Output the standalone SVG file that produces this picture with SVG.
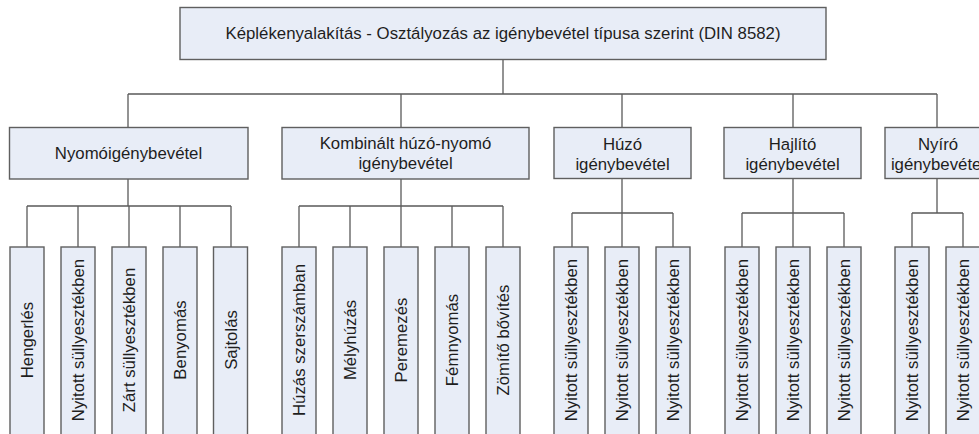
<svg xmlns="http://www.w3.org/2000/svg" width="979" height="434" viewBox="0 0 979 434">
<style>
.box{fill:#e8edf7;stroke:#5f5f5f;stroke-width:1.4}
.ln{fill:none;stroke:#5a5a5a;stroke-width:1.3}
text{font-family:"Liberation Sans",Arial,sans-serif;font-size:16.8px;fill:#1e1e1e;text-anchor:middle}
</style>
<rect width="979" height="434" fill="#ffffff"/>
<g id="connectors" class="ln">
<path d="M503,60V94M128,94H937M128,94V127M401,94V127M622,94V127M793,94V127M937,94V127"/>
<path d="M128,179V206M27,206H231M27,206V247M78,206V247M129,206V247M180,206V247M231,206V247"/>
<path d="M401,179V206M299,206H503M299,206V247M350,206V247M401,206V247M452,206V247M503,206V247"/>
<path d="M622,178V213M572,213H673M572,213V247M622,213V247M673,213V247"/>
<path d="M793,178V213M742,213H844M742,213V247M793,213V247M844,213V247"/>
<path d="M937,178V213M912,213H963M912,213V247M963,213V247"/>
</g>
<g id="root"><rect class="box" x="180" y="7.5" width="646" height="52"/><text x="503" y="39">Képlékenyalakítás - Osztályozás az igénybevétel típusa szerint (DIN 8582)</text></g>
<g id="nyomo"><rect class="box" x="9.5" y="127.5" width="238.5" height="51.5"/><text x="128.5" y="159">Nyomóigénybevétel</text></g>
<g id="kombinalt"><rect class="box" x="282" y="127.5" width="247" height="51.5"/><text x="405.5" y="149">Kombinált húzó-nyomó</text><text x="405.5" y="168.5">igénybevétel</text></g>
<g id="huzo"><rect class="box" x="554" y="127.5" width="137" height="51"/><text x="622.5" y="150">Húzó</text><text x="622.5" y="169.5">igénybevétel</text></g>
<g id="hajlito"><rect class="box" x="724" y="127.5" width="137" height="51"/><text x="792.5" y="150">Hajlító</text><text x="792.5" y="169.5">igénybevétel</text></g>
<g id="nyiro"><rect class="box" x="885" y="127.5" width="110" height="51"/><text x="938" y="150">Nyíró</text><text x="938" y="169.5">igénybevétel</text></g>
<g id="c1"><rect class="box" x="10" y="247" width="34" height="195"/><text transform="translate(33,340) rotate(-90)">Hengerlés</text></g>
<g id="c2"><rect class="box" x="61" y="247" width="34" height="195"/><text transform="translate(84,340) rotate(-90)">Nyitott  süllyesztékben</text></g>
<g id="c3"><rect class="box" x="112" y="247" width="34" height="195"/><text transform="translate(135,340) rotate(-90)">Zárt süllyesztékben</text></g>
<g id="c4"><rect class="box" x="163" y="247" width="34" height="195"/><text transform="translate(186,340) rotate(-90)">Benyomás</text></g>
<g id="c5"><rect class="box" x="213.5" y="247" width="34" height="195"/><text transform="translate(236.5,340) rotate(-90)">Sajtolás</text></g>
<g id="c6"><rect class="box" x="282" y="247" width="34" height="195"/><text transform="translate(305,340) rotate(-90)">Húzás szerszámban</text></g>
<g id="c7"><rect class="box" x="333" y="247" width="34" height="195"/><text transform="translate(356,340) rotate(-90)">Mélyhúzás</text></g>
<g id="c8"><rect class="box" x="384" y="247" width="34" height="195"/><text transform="translate(407,340) rotate(-90)">Peremezés</text></g>
<g id="c9"><rect class="box" x="435" y="247" width="34" height="195"/><text transform="translate(458,340) rotate(-90)">Fémnyomás</text></g>
<g id="c10"><rect class="box" x="486" y="247" width="34" height="195"/><text transform="translate(509,340) rotate(-90)">Zömítő bővítés</text></g>
<g id="c11"><rect class="box" x="554" y="247" width="34" height="195"/><text transform="translate(577,340) rotate(-90)">Nyitott süllyesztékben</text></g>
<g id="c12"><rect class="box" x="605" y="247" width="34" height="195"/><text transform="translate(628,340) rotate(-90)">Nyitott süllyesztékben</text></g>
<g id="c13"><rect class="box" x="656" y="247" width="34" height="195"/><text transform="translate(679,340) rotate(-90)">Nyitott süllyesztékben</text></g>
<g id="c14"><rect class="box" x="725" y="247" width="34" height="195"/><text transform="translate(748,340) rotate(-90)">Nyitott süllyesztékben</text></g>
<g id="c15"><rect class="box" x="776" y="247" width="34" height="195"/><text transform="translate(799,340) rotate(-90)">Nyitott süllyesztékben</text></g>
<g id="c16"><rect class="box" x="827" y="247" width="34" height="195"/><text transform="translate(850,340) rotate(-90)">Nyitott süllyesztékben</text></g>
<g id="c17"><rect class="box" x="895" y="247" width="34" height="195"/><text transform="translate(918,340) rotate(-90)">Nyitott süllyesztékben</text></g>
<g id="c18"><rect class="box" x="946" y="247" width="34" height="195"/><text transform="translate(969,340) rotate(-90)">Nyitott süllyesztékben</text></g>
</svg>
